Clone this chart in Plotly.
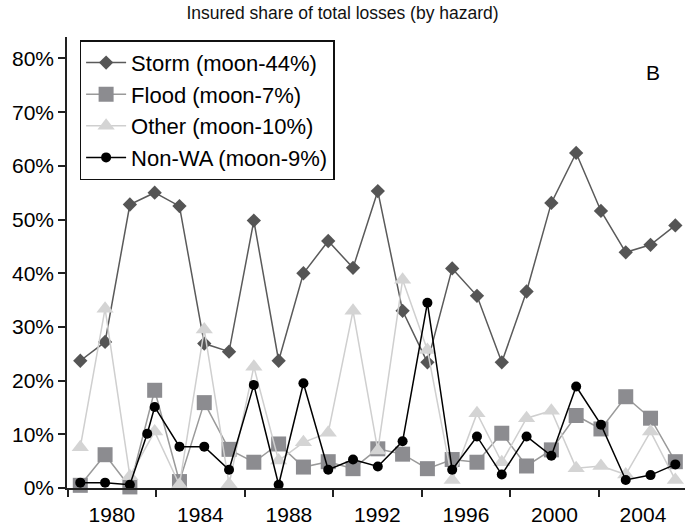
import plotly.graph_objects as go

# ---- data ----
idx = list(range(25))
storm = [23.7, 27.2, 52.8, 55.0, 52.5, 26.9, 25.4, 49.8, 23.7, 40.0, 46.0, 41.0, 55.3,
         33.0, 23.4, 40.9, 35.8, 23.4, 36.6, 53.1, 62.4, 51.6, 43.9, 45.3, 48.9]
flood = [0.5, 6.2, 0.2, 18.2, 1.2, 15.9, 7.2, 4.8, 8.2, 3.9, 4.9, 3.6, 7.3,
         6.3, 3.6, 5.3, 4.8, 10.2, 4.1, 7.1, 13.5, 11.0, 17.0, 13.0, 4.9]
other = [7.6, 33.4, 2.2, 10.5, 0.6, 29.5, 0.7, 22.6, 5.1, 8.5, 10.3, 33.0, 7.0,
         38.8, 25.7, 1.5, 13.9, 4.8, 13.0, 14.4, 3.7, 4.1, 2.5, 10.5, 1.5]
nonwa_x = [0, 1, 2, 2.7, 3, 4, 5, 6, 7, 8, 9, 10, 11, 12, 13, 14, 15, 16, 17, 18, 19, 20, 21, 22, 23, 24]
nonwa = [1.0, 1.0, 0.6, 10.1, 15.1, 7.7, 7.7, 3.4, 19.2, 0.6, 19.5, 3.4, 5.3, 4.0,
         8.7, 34.5, 3.4, 9.6, 2.5, 9.6, 6.0, 18.9, 11.8, 1.5, 2.4, 4.4]
year_labels = [1980, 1984, 1988, 1992, 1996, 2000, 2004]
year_ticks = [1978, 1982, 1986, 1990, 1994, 1998, 2002]
y_ticks = [0, 10, 20, 30, 40, 50, 60, 70, 80]
names = ["Storm (moon-44%)", "Flood (moon-7%)", "Other (moon-10%)", "Non-WA (moon-9%)"]

FONT = "Liberation Sans, Arial, sans-serif"
YEAR_RANGE = [1977.97, 2005.9]

fig = go.Figure()
fig.add_trace(go.Scatter(x=idx, y=storm, name=names[0], mode="lines+markers",
                         line=dict(color="#5a5a5a", width=1.5),
                         marker=dict(symbol="diamond", size=11, color="#555555"),
                         cliponaxis=False))
fig.add_trace(go.Scatter(x=idx, y=flood, name=names[1], mode="lines+markers",
                         line=dict(color="#9a9a9a", width=1.5),
                         marker=dict(symbol="square", size=15, color="#8c8c90"),
                         cliponaxis=False))
fig.add_trace(go.Scatter(x=idx, y=other, name=names[2], mode="lines+markers",
                         line=dict(color="#cfcfcf", width=1.5),
                         marker=dict(symbol="triangle-up", size=15, color="#d4d4d4"),
                         cliponaxis=False))
fig.add_trace(go.Scatter(x=nonwa_x, y=nonwa, name=names[3], mode="lines+markers",
                         line=dict(color="#000000", width=1.5),
                         marker=dict(symbol="circle", size=10, color="#000000"),
                         cliponaxis=False))
# invisible helper traces so the year axes are drawn
fig.add_trace(go.Scatter(x=[year_labels[0]], y=[None], xaxis="x2", showlegend=False,
                         hoverinfo="skip", mode="markers"))
fig.add_trace(go.Scatter(x=[year_ticks[0]], y=[None], xaxis="x3", showlegend=False,
                         hoverinfo="skip", mode="markers"))

fig.update_layout(
    width=685, height=530,
    margin=dict(l=66.7, r=0, t=36.7, b=41.7),
    paper_bgcolor="white", plot_bgcolor="white",
    font=dict(family=FONT, size=21, color="black"),
    title=dict(text="Insured share of total losses (by hazard)", x=0.5, xanchor="center",
               y=1 - 13 / 530, yanchor="middle", yref="container",
               font=dict(family=FONT, size=17.5, color="#111111")),
    xaxis=dict(range=[-0.536, 24.39], showticklabels=False, ticks="", showgrid=False,
               zeroline=False, showline=False, automargin=False),
    xaxis2=dict(overlaying="x", anchor="y", side="bottom", range=YEAR_RANGE,
                tickmode="array", tickvals=year_labels, ticktext=[str(v) for v in year_labels],
                ticks="", ticklabelstandoff=7, showgrid=False, zeroline=False,
                showline=True, linecolor="#222222", linewidth=1.5, automargin=False,
                tickfont=dict(size=21)),
    xaxis3=dict(overlaying="x", anchor="y", side="bottom", range=YEAR_RANGE,
                tickmode="array", tickvals=year_ticks, showticklabels=False,
                ticks="outside", ticklen=8, tickwidth=1.5, tickcolor="#222222",
                showgrid=False, zeroline=False, showline=False, automargin=False),
    yaxis=dict(range=[0, 84], tickmode="array", tickvals=y_ticks,
               ticktext=[f"{v}%" for v in y_ticks], ticks="outside", ticklen=7,
               tickwidth=1.5, tickcolor="#222222", showline=True, linecolor="#222222",
               linewidth=1.5, showgrid=False, zeroline=False, automargin=False,
               tickfont=dict(size=21)),
    legend=dict(x=0.0204, y=0.9927, xanchor="left", yanchor="top",
                bordercolor="#111111", borderwidth=1.5, bgcolor="white",
                font=dict(family=FONT, size=22, color="black"), itemwidth=40,
                tracegroupgap=0),
    annotations=[dict(text="B", x=0.962, y=0.952, xref="paper", yref="paper",
                      showarrow=False, font=dict(family=FONT, size=21, color="black"))],
)

fig.write_html("out.html")
